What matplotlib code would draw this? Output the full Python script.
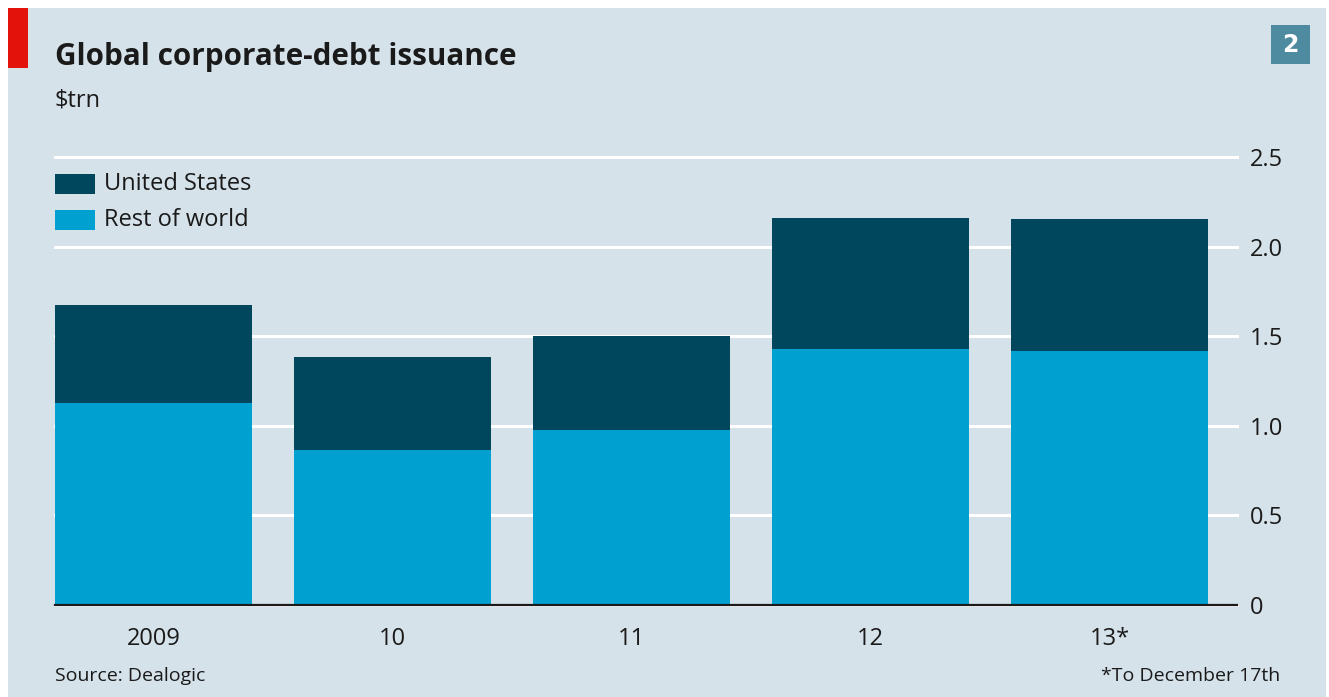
import matplotlib
matplotlib.use("Agg")
import matplotlib.pyplot as plt
from matplotlib.patches import Rectangle
from matplotlib.ticker import FixedLocator, FuncFormatter

years = ["2009", "10", "11", "12", "13*"]
rest_of_world = [1.127, 0.865, 0.977, 1.429, 1.417]
united_states = [0.547, 0.519, 0.524, 0.731, 0.737]
yticks = [0, 0.5, 1.0, 1.5, 2.0, 2.5]
legend_labels = ["United States", "Rest of world"]

plt.rcParams['font.family'] = ['Open Sans', 'DejaVu Sans']

BG = "#d5e2e9"
US_C = "#00465c"
ROW_C = "#00a1d0"
TXT = "#1a1a1a"

W, H = 1329, 697
fig = plt.figure(figsize=(W / 100, H / 100), dpi=100)
fig.patch.set_facecolor("white")
fig.add_artist(Rectangle((8 / W, 0), (1326 - 8) / W, 1 - 8 / H, transform=fig.transFigure,
                         facecolor=BG, edgecolor="none", zorder=0))
fig.add_artist(Rectangle((8 / W, 1 - 68 / H), 20 / W, 60 / H, transform=fig.transFigure,
                         facecolor="#e3120b", edgecolor="none", zorder=1))
fig.add_artist(Rectangle((1271 / W, 1 - 64 / H), 39 / W, 39 / H, transform=fig.transFigure,
                         facecolor="#4e8aa0", edgecolor="none", zorder=1))
fig.text(1290.5 / W, 1 - 45 / H, "2", color="white", fontsize=17, fontweight="bold",
         ha="center", va="center", family="DejaVu Sans")

fig.text(55 / W, 1 - 57 / H, "Global corporate-debt issuance", fontsize=21.3, fontweight="bold",
         color=TXT, ha="left", va="center")
fig.text(55 / W, 1 - 101 / H, "$trn", fontsize=17, color=TXT, ha="left", va="center")

ax = fig.add_axes([55 / W, 1 - 605 / H, (1237 - 55) / W, (605 - 157) / H])
ax.set_facecolor("none")
x = list(range(len(years)))
ax.bar(x, rest_of_world, width=0.824, color=ROW_C, zorder=3)
ax.bar(x, united_states, width=0.824, bottom=rest_of_world, color=US_C, zorder=3)
ax.set_xlim(-0.412, 4.533)
ax.set_ylim(0, 2.5)
for s in ax.spines.values():
    s.set_visible(False)
ax.yaxis.tick_right()
ax.yaxis.set_major_locator(FixedLocator(yticks))
ax.yaxis.set_major_formatter(FuncFormatter(lambda v, p: "0" if v == 0 else f"{v:.1f}"))
ax.grid(axis="y", color="white", linewidth=2.2, zorder=1)
for gl in ax.get_ygridlines():
    gl.set_clip_on(False)
ax.axhline(0, color="#1a1a1a", linewidth=1.6, zorder=4, clip_on=False)
ax.tick_params(axis="y", length=0, pad=9, labelsize=17, labelcolor=TXT)
ax.set_xticks(x)
ax.set_xticklabels(years)
ax.tick_params(axis="x", length=0, pad=16, labelsize=17, labelcolor=TXT)

# legend drawn as patches + text
for (lab, col, yc) in zip(legend_labels, [US_C, ROW_C], [184, 220]):
    fig.add_artist(Rectangle((55 / W, 1 - (yc + 10) / H), 40 / W, 20 / H, transform=fig.transFigure,
                             facecolor=col, edgecolor="none", zorder=5))
    fig.text(104 / W, 1 - yc / H, lab, fontsize=17, color=TXT, ha="left", va="center")

fig.text(55 / W, 1 - 676 / H, "Source: Dealogic", fontsize=14, color=TXT, ha="left", va="center")
fig.text(1280 / W, 1 - 676 / H, "*To December 17th", fontsize=14, color=TXT, ha="right", va="center")

fig.savefig("out.png", dpi=100, facecolor=fig.get_facecolor())
